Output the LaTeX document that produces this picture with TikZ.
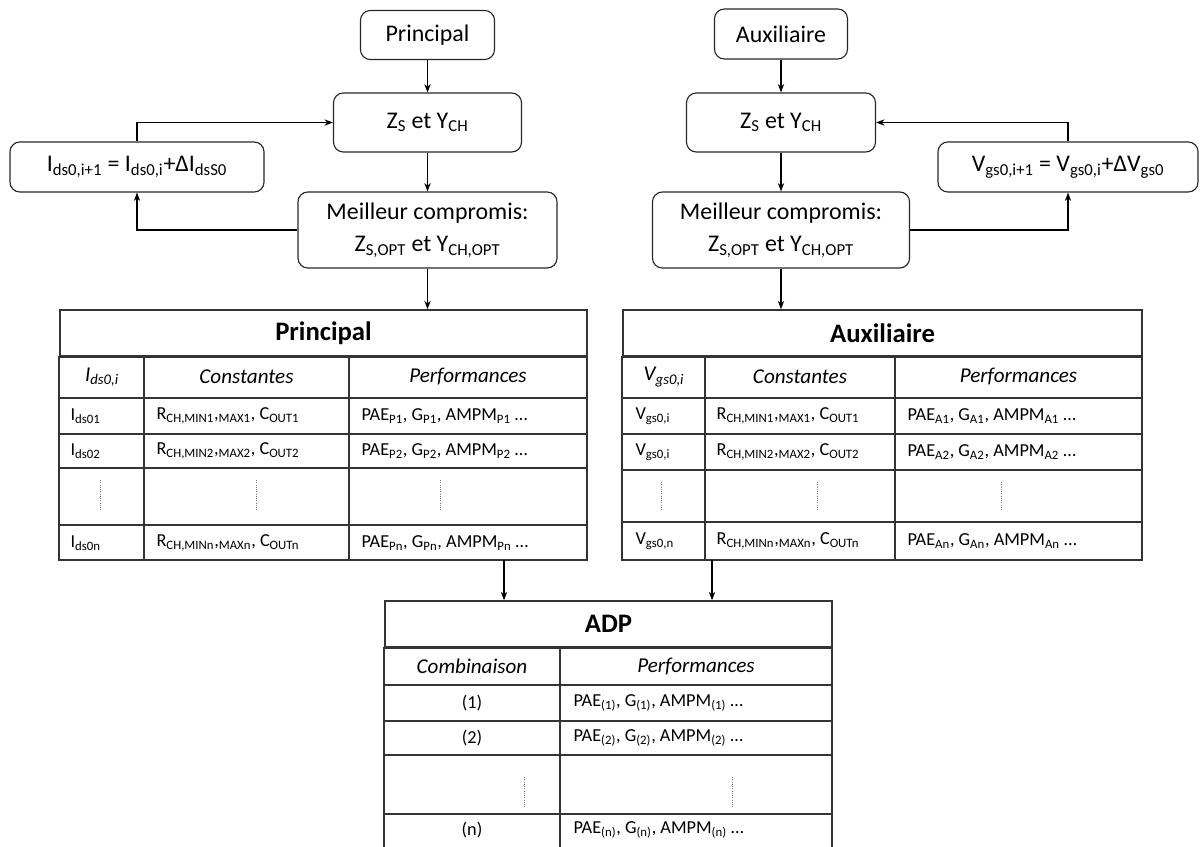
\documentclass[tikz,border=0pt]{standalone}
\usepackage{fontspec}
\setmainfont{Carlito}
\usetikzlibrary{arrows.meta,positioning}
\newcommand{\ix}[1]{\textsubscript{#1}}
\tikzset{
  blk/.style={draw=black!85, line width=0.8pt, rounded corners=7pt, align=center,
    inner sep=0pt, font=\fontsize{17}{23}\selectfont},
  tabline/.style={draw=black!80, line width=1.1pt},
  ttl/.style={tabline, inner sep=0pt, font=\fontsize{19}{22}\selectfont\bfseries},
  hdr/.style={inner sep=0pt, font=\fontsize{15}{18}\selectfont\itshape},
  cell/.style={anchor=west, inner sep=0pt, font=\fontsize{13}{15}\selectfont},
  mid/.style={inner sep=0pt, font=\fontsize{13}{15}\selectfont},
  vdots/.style={draw=black!55, densely dotted, line width=0.6pt}
}
\begin{document}
\begin{tikzpicture}[x=0.025cm,y=-0.025cm,>={Stealth[length=6pt,width=4.5pt]},line width=0.8pt]
\path[use as bounding box] (0,0) rectangle (1200,846);
\clip (0,0) rectangle (1200,846);

% principal loop
\node[blk,minimum width=3.35cm,minimum height=1.225cm] (pstart) at (427.5,35) {Principal};
\node[blk,minimum width=4.7cm,minimum height=1.475cm] (pzy) at (427.5,122.5) {Z\ix{S} et Y\ix{CH}};
\node[blk,minimum width=6.475cm,minimum height=1.9cm] (pbest) at (427.5,230) {Meilleur compromis:\\Z\ix{S,OPT} et Y\ix{CH,OPT}};
\node[blk,minimum width=6.35cm,minimum height=1.25cm] (pstep) at (137,167) {I\ix{ds0,i+1} = I\ix{ds0,i}+ΔI\ix{dsS0}};
\draw[->] (pstart) -- (pzy);
\draw[->] (pzy) -- (pbest);
\draw[->] (pbest.west) -| (pstep.south);
\draw[->] (pstep.north) |- (pzy.west);

% auxiliaire loop
\node[blk,minimum width=3.325cm,minimum height=1.25cm] (astart) at (781,34) {Auxiliaire};
\node[blk,minimum width=4.725cm,minimum height=1.475cm] (azy) at (781,122.5) {Z\ix{S} et Y\ix{CH}};
\node[blk,minimum width=6.425cm,minimum height=1.9cm] (abest) at (781,230) {Meilleur compromis:\\Z\ix{S,OPT} et Y\ix{CH,OPT}};
\node[blk,minimum width=6.5cm,minimum height=1.25cm] (astep) at (1068,167) {V\ix{gs0,i+1} = V\ix{gs0,i}+ΔV\ix{gs0}};
\draw[->] (astart) -- (azy);
\draw[->] (azy) -- (abest);
\draw[->] (abest.east) -| (astep.south);
\draw[->] (astep.north) |- (azy.east);

% table principal
\node[ttl,minimum width=13.175cm,minimum height=1.15cm] (ptitle) at (323.5,333) {Principal};
\draw[->] (pbest.south) -- (pbest.south |- ptitle.north);
\draw[tabline] (ptitle.south west) rectangle (587,560);
\foreach \y in {398,434,468,525} \draw[tabline] (60,\y) -- (587,\y);
\foreach \x in {144,349} \draw[tabline] (\x,356) -- (\x,560);
\node[hdr] (ph1) at (102,377) {I\ix{ds0,i}};
\node[hdr] (ph2) at (246.5,377) {Constantes};
\node[hdr] (ph3) at (468,377) {Performances};
\foreach \k/\y in {1/416,2/451,n/543} {
  \node[cell] (pi\k) at (70,\y) {I\ix{ds0\k}};
  \node[cell] (pc\k) at (156,\y) {R\ix{CH,MIN\k},\ix{MAX\k}, C\ix{OUT\k}};
  \node[cell] (pp\k) at (361,\y) {PAE\ix{P\k}, G\ix{P\k}, AMPM\ix{P\k} …};
}
\foreach \x in {100,256,440} \draw[vdots] (\x,480) -- (\x,511);

% table auxiliaire
\node[ttl,minimum width=12.975cm,minimum height=1.15cm] (atitle) at (882.5,333) {Auxiliaire};
\draw[->] (abest.south) -- (abest.south |- atitle.north);
\draw[tabline] (atitle.south west) rectangle (1142,560);
\foreach \y in {398,434,470,522} \draw[tabline] (623,\y) -- (1142,\y);
\foreach \x in {705,895} \draw[tabline] (\x,356) -- (\x,560);
\node[hdr] (ah1) at (664,377) {V\ix{gs0,i}};
\node[hdr] (ah2) at (800,377) {Constantes};
\node[hdr] (ah3) at (1018.5,377) {Performances};
\foreach \k/\v/\y in {1/i/416,2/i/452,n/n/541} {
  \node[cell] (ai\k) at (635,\y) {V\ix{gs0,\v}};
  \node[cell] (ac\k) at (716,\y) {R\ix{CH,MIN\k},\ix{MAX\k}, C\ix{OUT\k}};
  \node[cell] (ap\k) at (907,\y) {PAE\ix{A\k}, G\ix{A\k}, AMPM\ix{A\k} …};
}
\foreach \x in {661,817,1001} \draw[vdots] (\x,482) -- (\x,511);

% table ADP
\coordinate (pfoot) at (504,560);
\coordinate (afoot) at (712,560);
\node[ttl,minimum width=11.175cm,minimum height=1.15cm] (dtitle) at (608.5,624) {ADP};
\draw[->] (pfoot) -- (pfoot |- dtitle.north);
\draw[->] (afoot) -- (afoot |- dtitle.north);
\draw[tabline] (dtitle.south west) rectangle (832,852);
\foreach \y in {685,721,755,814} \draw[tabline] (385,\y) -- (832,\y);
\draw[tabline] (560,647) -- (560,852);
\node[hdr] (dh1) at (472,666) {Combinaison};
\node[hdr] (dh2) at (696,666) {Performances};
\foreach \k/\y in {1/703,2/738,n/830} {
  \node[mid] (dc\k) at (472,\y) {(\k)};
  \node[cell] (dp\k) at (573,\y) {PAE\ix{(\k)}, G\ix{(\k)}, AMPM\ix{(\k)} …};
}
\foreach \x in {524,732} \draw[vdots] (\x,777) -- (\x,807);
\end{tikzpicture}
\end{document}
